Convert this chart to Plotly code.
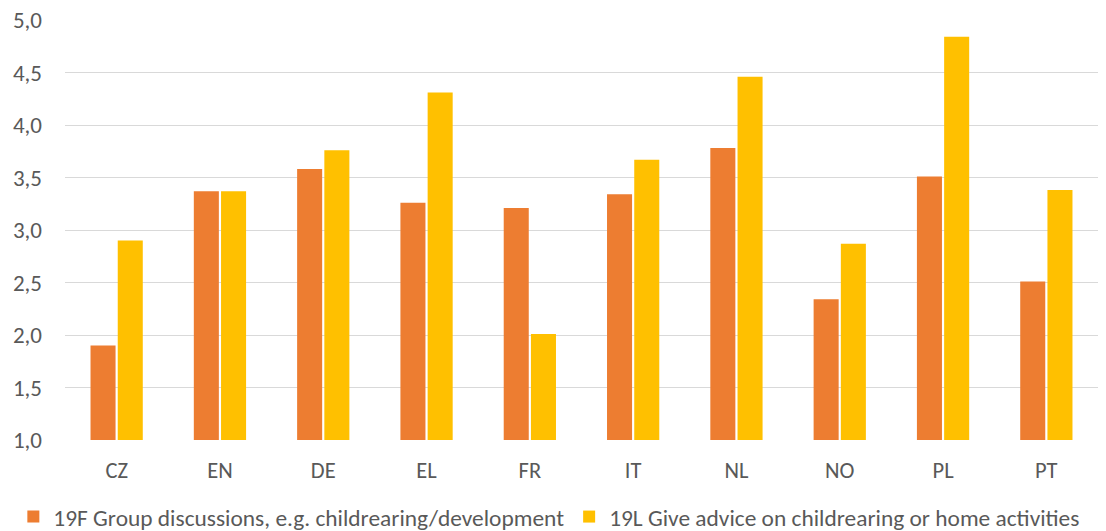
import plotly.graph_objects as go

countries = ["CZ", "EN", "DE", "EL", "FR", "IT", "NL", "NO", "PL", "PT"]
group_discussions = [1.90, 3.37, 3.58, 3.26, 3.21, 3.34, 3.78, 2.34, 3.51, 2.51]
give_advice = [2.90, 3.37, 3.76, 4.31, 2.01, 3.67, 4.46, 2.87, 4.84, 3.38]

name_f = "19F Group discussions, e.g. childrearing/development"
name_l = "19L Give advice on childrearing or home activities"

FONT = "Carlito, Calibri, Lato, sans-serif"
GREY = "#595959"

fig = go.Figure()
fig.add_trace(go.Bar(x=countries, y=group_discussions, name=name_f,
                     marker=dict(color="#ED7D31", line=dict(width=0))))
fig.add_trace(go.Bar(x=countries, y=give_advice, name=name_l,
                     marker=dict(color="#FFC000", line=dict(width=0))))

fig.update_layout(
    width=1106, height=531,
    margin=dict(l=65, r=8, t=20, b=91, autoexpand=False),
    paper_bgcolor="white", plot_bgcolor="white",
    separators=", ",
    barmode="group", bargap=0.473, bargroupgap=0.08,
    font=dict(family=FONT, size=23, color=GREY),
    showlegend=True,
    legend=dict(orientation="h", x=-0.05, xanchor="left", y=-0.183, yanchor="middle",
                font=dict(family=FONT, size=23.4, color=GREY), traceorder="normal"),
)
fig.update_yaxes(range=[1, 5], dtick=0.5, tickformat=".1f", automargin=False,
                 showgrid=True, gridcolor="#d9d9d9", gridwidth=1.3,
                 zeroline=False, showline=False, ticks="",
                 ticklabelstandoff=22, tickfont=dict(family=FONT, size=23, color=GREY))
fig.update_xaxes(showline=False, ticks="", ticklabelstandoff=14, automargin=False,
                 tickfont=dict(family=FONT, size=22.5, color=GREY))

fig.write_html("out.html")
